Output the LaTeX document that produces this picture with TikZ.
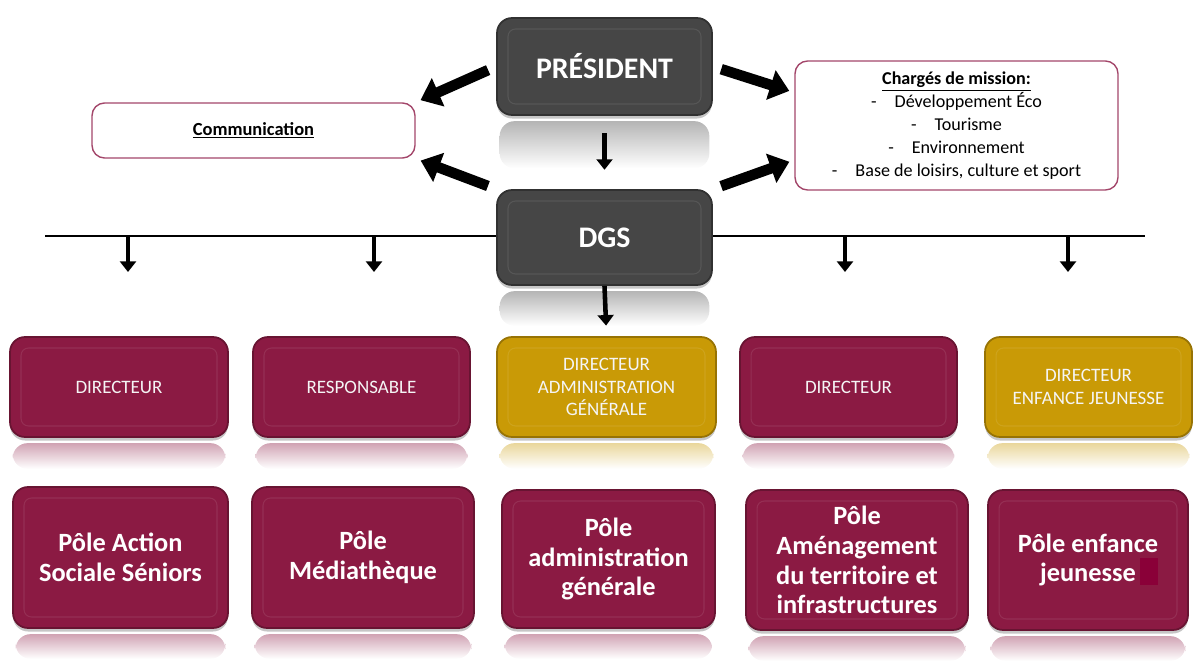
\documentclass[tikz,border=0pt]{standalone}
\usepackage{fontspec}
\setmainfont{Carlito}
\usetikzlibrary{arrows.meta,shadows}
\definecolor{gris}{HTML}{464646}
\definecolor{bordeaux}{HTML}{8B1A43}
\definecolor{ocre}{HTML}{C99A06}
\definecolor{lisere}{HTML}{A3466A}
\definecolor{carre}{HTML}{8A0038}
\tikzset{
  box/.style={rounded corners=0.3cm, minimum width=4.3cm, minimum height=2cm,
    align=center, inner sep=0pt, line width=1pt, text=white,
    drop shadow={shadow xshift=0pt, shadow yshift=-2pt, opacity=0.45},
    path picture={\draw[white, opacity=0.09, line width=0.6pt, rounded corners=0.15cm]
      ([shift={(0.22cm,-0.22cm)}]path picture bounding box.north west) rectangle
      ([shift={(-0.22cm,0.22cm)}]path picture bounding box.south east);}},
  grisbox/.style={box, fill=gris, draw=gris!70!black, font=\fontsize{17}{18}\selectfont\bfseries},
  chefbox/.style={box, fill=bordeaux, draw=bordeaux!75!black, text=white!92!gray,
    font=\fontsize{10.8}{12.8}\selectfont},
  orbox/.style={chefbox, fill=ocre, draw=ocre!75!black},
  polebox/.style={box, fill=bordeaux, draw=bordeaux!75!black, minimum height=2.82cm,
    font=\fontsize{15}{17}\selectfont\bfseries},
  cadre/.style={draw=lisere, line width=0.8pt, rounded corners=0.25cm, fill=white,
    align=center, inner sep=0pt},
  grossefleche/.style={line width=6pt, -{Triangle[length=11pt,width=17pt]},
    shorten <=5pt, shorten >=3pt},
  fleche/.style={line width=2.6pt, -{Triangle[length=6pt,width=9pt]}}
}
\newcommand\reflet[3]{%
  \shade[top color=#2, bottom color=white, rounded corners=0.3cm]
    ([xshift=2pt,yshift=-3pt]#1.south west) rectangle ([xshift=-2pt,yshift=-#3]#1.south east);}
\begin{document}
\begin{tikzpicture}[x=0.02cm, y=-0.02cm]
  \useasboundingbox (0,0) rectangle (1193,662);

  % ligne horizontale sous le DGS
  \coordinate (ligneG) at (45,236);
  \coordinate (ligneD) at (1145,236);
  \draw[line width=0.8pt] (ligneG) -- (ligneD);

  % direction
  \node[grisbox, minimum height=1.94cm] (pres) at (604.5,66.5) {PRÉSIDENT};
  \node[grisbox, minimum height=1.9cm] (dgs) at (604.5,237.5) {DGS};
  \reflet{pres}{gris!40}{1.05cm}
  \reflet{dgs}{gris!40}{0.8cm}

  \node[cadre, minimum width=6.46cm, minimum height=1.1cm, font=\fontsize{10.5}{12}\selectfont\bfseries]
    (comm) at (253.5,130.5) {\underline{Communication}};
  \node[cadre, minimum width=6.46cm, minimum height=2.58cm, font=\fontsize{10.3}{13}\selectfont]
    (mission) at (956.5,125.5)
    {\textbf{\underline{Chargés de mission:}}\\
     -\quad Développement Éco\\
     -\quad Tourisme\\
     -\quad Environnement\\
     -\quad Base de loisirs, culture et sport};

  % directeurs
  \node[chefbox, minimum width=4.36cm] (dir1) at (119,387) {DIRECTEUR};
  \node[chefbox, minimum width=4.34cm] (dir2) at (361.5,387) {RESPONSABLE};
  \node[orbox, minimum width=4.38cm] (dir3) at (606.5,387) {DIRECTEUR\\ADMINISTRATION\\GÉNÉRALE};
  \node[chefbox, minimum width=4.34cm] (dir4) at (848.5,387) {DIRECTEUR};
  \node[orbox, minimum width=4.14cm] (dir5) at (1088.5,387) {DIRECTEUR\\ENFANCE JEUNESSE};
  \foreach \d in {dir1,dir2,dir4} {\reflet{\d}{bordeaux!40}{0.62cm}}
  \foreach \d in {dir3,dir5} {\reflet{\d}{ocre!40}{0.62cm}}

  % pôles
  \node[polebox, minimum width=4.3cm] (pole1) at (120.5,557.5) {Pôle Action\\Sociale Séniors};
  \node[polebox, minimum width=4.44cm] (pole2) at (363,557.5) {Pôle\\Médiathèque};
  \node[polebox, minimum width=4.26cm, minimum height=2.76cm] (pole3) at (608.5,559) {Pôle\\administration\\générale};
  \node[polebox, minimum width=4.44cm, minimum height=2.8cm] (pole4) at (857,560) {Pôle\\Aménagement\\du territoire et\\infrastructures};
  \node[polebox, minimum width=4.0cm, minimum height=2.8cm] (pole5) at (1088,560) {Pôle enfance\\jeunesse};
  \foreach \p in {pole1,pole2,pole3,pole4,pole5} {\reflet{\p}{bordeaux!40}{0.6cm}}
  \fill[carre] (1140,558) rectangle (1158,585);

  % flèches
  \draw[fleche, shorten <=10pt, shorten >=11pt] (pres.south) -- (dgs.north);
  \draw[grossefleche] (pres.west) -- (comm.north east);
  \draw[grossefleche] (dgs.north west) -- (comm.south east);
  \draw[grossefleche] (pres.east) -- ([yshift=0.66cm]mission.west);
  \draw[grossefleche] (dgs.north east) -- ([yshift=-0.69cm]mission.west);
  \draw[fleche, shorten >=6pt] (dgs.south) -- (dir3.north);
  \foreach \x/\n in {128/1,374/2,845/4,1068/5} {
    \coordinate (bout\n) at (\x,272);
    \draw[fleche] (bout\n |- ligneG) -- (bout\n);
  }
\end{tikzpicture}
\end{document}
